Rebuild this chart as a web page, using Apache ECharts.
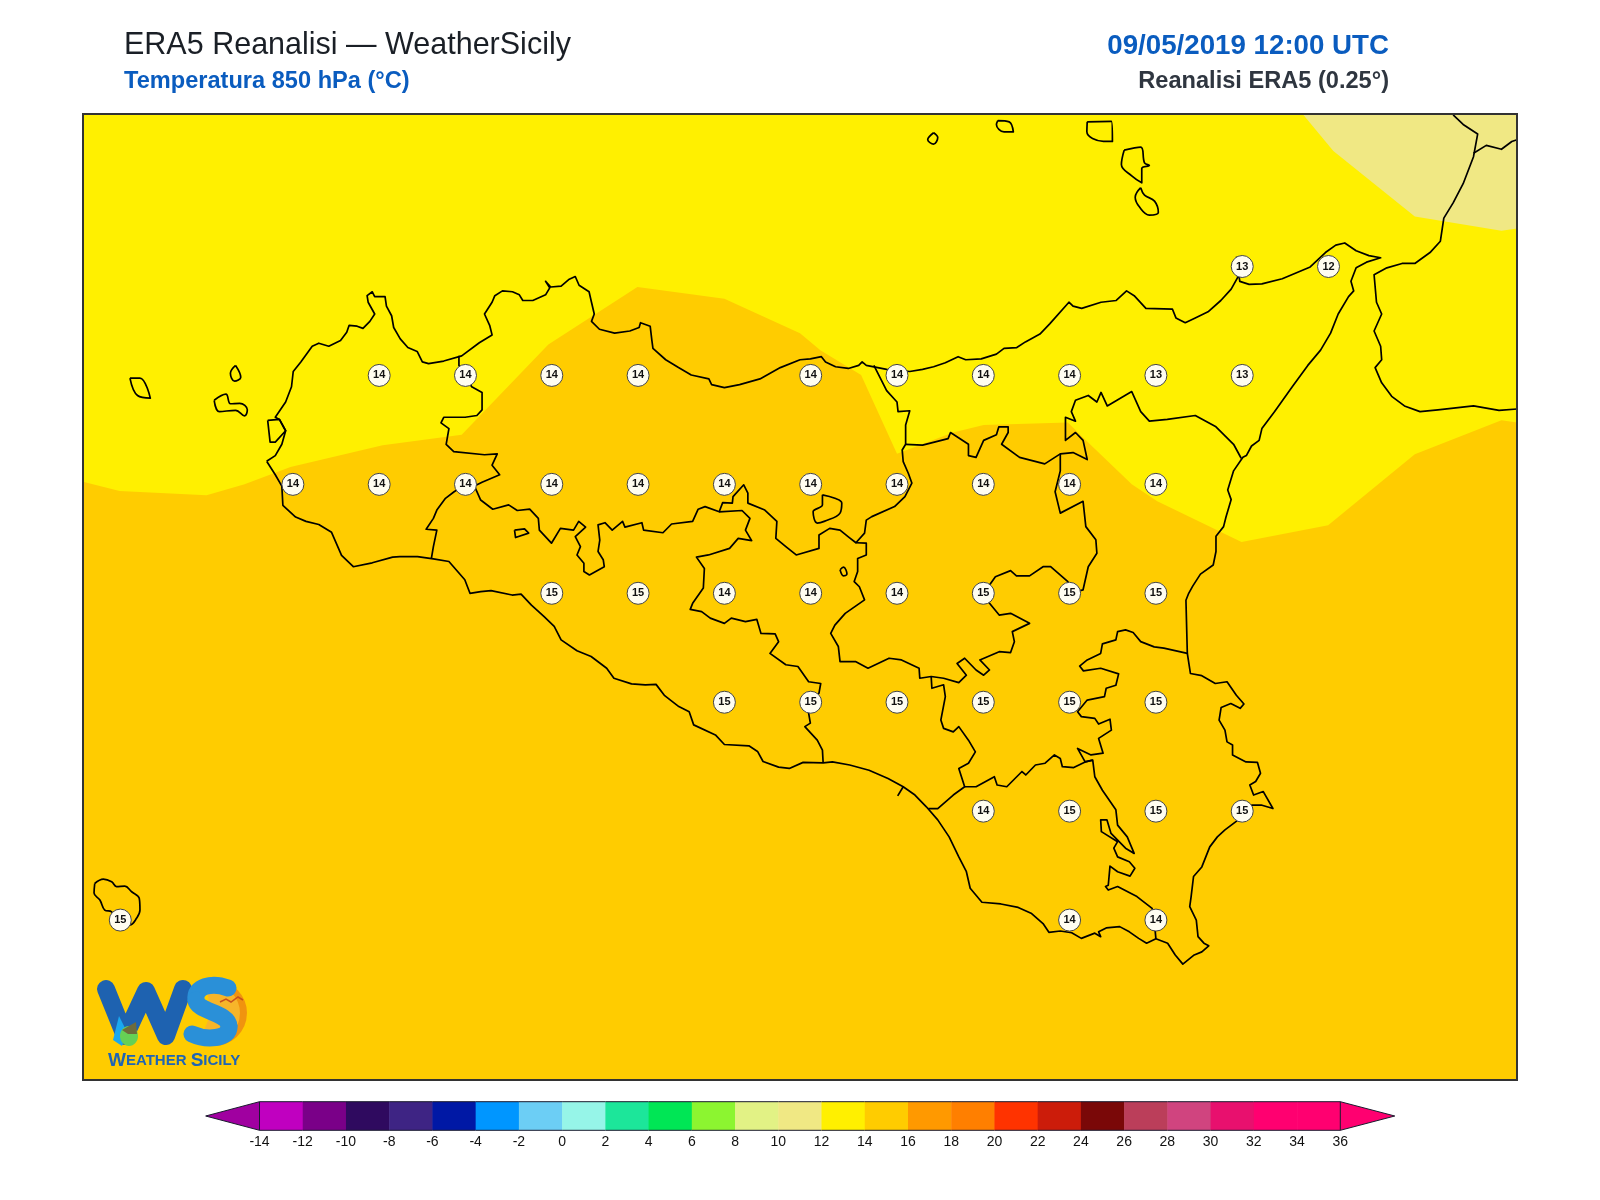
<!DOCTYPE html>
<html>
<head>
<meta charset="utf-8">
<title>ERA5 Reanalisi - WeatherSicily</title>
<style>
html,body{margin:0;padding:0;background:#fff}
#chart{width:1600px;height:1200px}
</style>
<script src="https://cdn.jsdelivr.net/npm/echarts@6/dist/echarts.min.js"></script>
</head>
<body>
<div id="chart"></div>
<script>
// map extent in degrees
const lonMin = 11.892, lonMax = 16.046, latMin = 36.383, latMax = 38.6;

// isotherms, as lat read at each lon; fill goes from the line up to the top of the map
const iso14 = [[11.892,37.756],[11.998,37.735],[12.25,37.725],[12.36,37.75],[12.493,37.79],[12.76,37.84],[12.989,37.864],[13.24,38.071],[13.498,38.203],[13.75,38.176],[13.969,38.097],[14.028,38.058],[14.146,38.001],[14.25,37.82],[14.412,37.869],[14.501,37.886],[14.745,37.892],[14.797,37.851],[14.93,37.75],[15.004,37.711],[15.248,37.618],[15.499,37.656],[15.75,37.819],[16.001,37.897],[16.046,37.892]];
const iso12 = [[15.425,38.6],[15.514,38.515],[15.75,38.365],[16.001,38.332],[16.046,38.337]];

// grid point labels (0.25 deg ERA5 grid)
const pointLon = [15.25,15.5, 12.75,13,13.25,13.5,14,14.25,14.5,14.75,15,15.25, 12.5,12.75,13,13.25,13.5,13.75,14,14.25,14.5,14.75,15, 13.25,13.5,13.75,14,14.25,14.5,14.75,15, 13.75,14,14.25,14.5,14.75,15, 14.5,14.75,15,15.25, 14.75,15,12];
const pointLat = [38.25,38.25, 38,38,38,38,38,38,38,38,38,38, 37.75,37.75,37.75,37.75,37.75,37.75,37.75,37.75,37.75,37.75,37.75, 37.5,37.5,37.5,37.5,37.5,37.5,37.5,37.5, 37.25,37.25,37.25,37.25,37.25,37.25, 37,37,37,37, 36.75,36.75,36.75];
const pointTemp = [13,12, 14,14,14,14,14,14,14,14,13,13, 14,14,14,14,14,14,14,14,14,14,14, 15,15,14,14,14,15,15,15, 15,15,15,15,15,15, 14,15,15,15, 14,14,15];

// colorbar
const barLevels = [-14,-12,-10,-8,-6,-4,-2,0,2,4,6,8,10,12,14,16,18,20,22,24,26,28,30,32,34,36];
const barColors = ['#C000C0','#7A0088','#2F0A5F','#3E2484','#0018A5','#0096FF','#6CCEF5','#96F5E8','#1CE69A','#00E655','#8CF530','#E2F285','#F0E884','#FFF000','#FFCC00','#FF9900','#FF7F00','#FF3300','#CC1C0A','#7A0808','#BB3E5A','#D0447F','#E8106E','#FF0070','#FF0070'];
const arrowLow = -16.49, arrowHigh = 38.52;
const arrowLowColor = '#A000A0', arrowHighColor = '#FF0070';

// sicily coastline
const coastSicily = [[12.424,37.803],[12.449,37.816],[12.468,37.842],[12.479,37.873],[12.461,37.899],[12.449,37.904],[12.479,37.939],[12.496,37.974],[12.501,38.009],[12.523,38.031],[12.556,38.067],[12.575,38.074],[12.604,38.067],[12.638,38.08],[12.656,38.099],[12.663,38.115],[12.686,38.113],[12.703,38.108],[12.723,38.124],[12.737,38.141],[12.718,38.168],[12.715,38.183],[12.73,38.192],[12.737,38.181],[12.767,38.181],[12.771,38.159],[12.786,38.137],[12.792,38.11],[12.811,38.084],[12.833,38.064],[12.86,38.055],[12.875,38.031],[12.893,38.027],[12.937,38.033],[12.989,38.045],[13.04,38.075],[13.077,38.093],[13.07,38.115],[13.055,38.141],[13.077,38.168],[13.085,38.183],[13.107,38.194],[13.136,38.192],[13.156,38.185],[13.166,38.172],[13.195,38.172],[13.232,38.185],[13.244,38.201],[13.232,38.216],[13.247,38.203],[13.277,38.205],[13.299,38.22],[13.318,38.227],[13.329,38.207],[13.358,38.192],[13.365,38.168],[13.373,38.141],[13.365,38.124],[13.388,38.106],[13.432,38.097],[13.476,38.102],[13.503,38.11],[13.507,38.121],[13.535,38.113],[13.54,38.08],[13.543,38.062],[13.58,38.036],[13.617,38.018],[13.654,38.001],[13.705,37.992],[13.713,37.979],[13.75,37.972],[13.794,37.979],[13.853,37.992],[13.912,38.018],[13.969,38.036],
[13.999,38.038],[14.031,38.043],[14.043,38.031],[14.072,38.02],[14.109,38.016],[14.139,38.023],[14.149,38.031],[14.161,38.023],[14.22,38.014],[14.287,38.009],[14.324,38.014],[14.356,38.02],[14.39,38.029],[14.427,38.043],[14.449,38.036],[14.494,38.038],[14.538,38.049],[14.56,38.062],[14.597,38.064],[14.622,38.077],[14.664,38.095],[14.693,38.119],[14.748,38.168],[14.76,38.159],[14.785,38.154],[14.841,38.168],[14.885,38.172],[14.915,38.194],[14.937,38.183],[14.971,38.154],[15.048,38.152],[15.058,38.132],[15.085,38.121],[15.114,38.132],[15.151,38.146],[15.188,38.172],[15.218,38.198],[15.237,38.225],[15.233,38.271],[15.243,38.216],[15.27,38.209],[15.307,38.21],[15.366,38.222],[15.447,38.249],[15.491,38.282],[15.521,38.299],[15.547,38.304],[15.58,38.286],[15.617,38.275],[15.651,38.27],[15.61,38.26],[15.58,38.247],[15.565,38.216],[15.573,38.194],[15.558,38.181],[15.528,38.141],[15.506,38.097],[15.477,38.058],[15.44,38.023],[15.395,37.974],[15.344,37.917],[15.307,37.878],[15.299,37.851],[15.277,37.838],[15.262,37.816],[15.252,37.812],[15.225,37.781],[15.208,37.737],[15.218,37.715],[15.203,37.675],[15.196,37.653],[15.174,37.631],[15.174,37.596],[15.166,37.565],[15.129,37.544],[15.107,37.517],[15.095,37.5],
[15.087,37.484],[15.091,37.362],[15.1,37.316],[15.133,37.311],[15.172,37.293],[15.206,37.297],[15.233,37.266],[15.255,37.246],[15.244,37.236],[15.217,37.247],[15.189,37.238],[15.183,37.209],[15.2,37.186],[15.206,37.159],[15.222,37.152],[15.222,37.129],[15.261,37.113],[15.294,37.112],[15.303,37.087],[15.289,37.068],[15.272,37.06],[15.283,37.037],[15.311,37.045],[15.339,37.006],[15.305,37.014],[15.278,37.014],[15.25,36.987],[15.2,36.957],[15.178,36.941],[15.156,36.918],[15.133,36.872],[15.109,36.85],[15.102,36.804],[15.098,36.781],[15.117,36.75],[15.122,36.712],[15.139,36.697],[15.153,36.691],[15.133,36.677],[15.111,36.67],[15.078,36.649],[15.056,36.67],[15.034,36.697],[15,36.707],[14.973,36.697],[14.95,36.708],[14.923,36.723],[14.895,36.735],[14.856,36.732],[14.834,36.723],[14.84,36.712],[14.823,36.72],[14.784,36.708],[14.756,36.721],[14.723,36.725],[14.69,36.722],[14.673,36.742],[14.64,36.765],[14.601,36.779],[14.551,36.787],[14.496,36.791],[14.462,36.823],[14.451,36.861],[14.429,36.895],[14.401,36.941],[14.368,36.98],[14.335,37.01],[14.302,37.037],[14.268,37.056],[14.224,37.075],[14.169,37.094],[14.113,37.106],[14.063,37.113],[14.036,37.111],
[13.978,37.112],[13.938,37.098],[13.907,37.101],[13.862,37.114],[13.846,37.137],[13.821,37.15],[13.75,37.153],[13.724,37.175],[13.661,37.198],[13.648,37.228],[13.618,37.24],[13.577,37.265],[13.552,37.291],[13.521,37.29],[13.481,37.292],[13.43,37.305],[13.409,37.328],[13.364,37.355],[13.323,37.368],[13.277,37.393],[13.257,37.424],[13.227,37.447],[13.191,37.473],[13.161,37.498],[13.135,37.496],[13.074,37.506],[13.044,37.504],[13.013,37.5],[12.998,37.531],[12.952,37.573],[12.907,37.579],[12.861,37.584],[12.81,37.584],[12.789,37.583],[12.73,37.57],[12.675,37.561],[12.641,37.587],[12.612,37.64],[12.575,37.658],[12.538,37.665],[12.508,37.675],[12.471,37.702],[12.468,37.746],[12.449,37.772],[12.424,37.803]];
const lagoonStagnone = [[12.427,37.897],[12.434,37.847],[12.449,37.847],[12.479,37.873],[12.461,37.899],[12.427,37.897]];

// small islands
const isleMarettimo = [[12.028,37.994],[12.057,37.994],[12.087,37.948],[12.05,37.954],[12.028,37.994]];
const isleLevanzo = [[12.334,38.023],[12.349,37.996],[12.331,37.987],[12.319,38.005],[12.334,38.023]];
const isleFavignana = [[12.272,37.943],[12.306,37.957],[12.319,37.935],[12.346,37.936],[12.368,37.921],[12.36,37.907],[12.334,37.92],[12.287,37.917],[12.272,37.943]];
const isleAlicudi = [[14.356,38.557],[14.368,38.546],[14.356,38.531],[14.339,38.541],[14.356,38.557]];
const isleFilicudi = [[14.542,38.585],[14.575,38.582],[14.587,38.559],[14.56,38.559],[14.538,38.576],[14.542,38.585]];
const isleSalina = [[14.801,38.582],[14.871,38.583],[14.874,38.537],[14.848,38.537],[14.8,38.559],[14.801,38.582]];
const isleLipari = [[14.908,38.517],[14.956,38.524],[14.967,38.488],[14.981,38.482],[14.959,38.475],[14.959,38.442],[14.93,38.458],[14.9,38.484],[14.908,38.517]];
const isleVulcano = [[14.956,38.431],[14.967,38.414],[14.996,38.4],[15.007,38.374],[14.981,38.368],[14.952,38.387],[14.94,38.409],[14.956,38.431]];
const islePantelleria = [[11.926,36.834],[11.951,36.844],[11.975,36.838],[11.989,36.827],[12.013,36.828],[12.033,36.815],[12.055,36.8],[12.057,36.773],[12.047,36.754],[12.028,36.739],[11.999,36.739],[11.975,36.769],[11.955,36.773],[11.941,36.796],[11.924,36.812],[11.926,36.834]];

// calabria
const coastCalabria = [[15.861,38.598],[15.89,38.576],[15.932,38.554],[15.92,38.502],[15.89,38.44],[15.861,38.396],[15.834,38.361],[15.824,38.308],[15.794,38.282],[15.75,38.257],[15.713,38.257],[15.669,38.247],[15.632,38.231],[15.639,38.168],[15.654,38.141],[15.632,38.102],[15.651,38.067],[15.654,38.036],[15.635,38.018],[15.654,37.983],[15.683,37.952],[15.72,37.93],[15.765,37.917],[15.817,37.921],[15.92,37.93],[15.994,37.92],[16.046,37.923]];
const borderCalabria = [[15.92,38.51],[15.957,38.528],[16.001,38.519],[16.031,38.537],[16.046,38.541]];

// province borders
const borderTpPa = [[12.981,38.045],[12.981,38.023],[13.018,37.974],[13.048,37.961],[13.048,37.921],[13.033,37.908],[12.999,37.904],[12.937,37.904],[12.929,37.891],[12.952,37.878],[12.944,37.842],[12.966,37.825],[13.055,37.818],[13.092,37.82],[13.077,37.794],[13.099,37.772],[13.048,37.755],[13.026,37.746],[13,37.75]];
const borderTpAg = [[13,37.75],[12.967,37.733],[12.942,37.718],[12.917,37.691],[12.907,37.672],[12.886,37.647],[12.917,37.645],[12.907,37.607],[12.901,37.579]];
const borderPaAg = [[13.026,37.746],[13.044,37.714],[13.079,37.693],[13.125,37.703],[13.15,37.69],[13.186,37.693],[13.211,37.672],[13.214,37.645],[13.249,37.615],[13.275,37.649],[13.313,37.645],[13.328,37.665],[13.348,37.652],[13.318,37.63],[13.333,37.607],[13.323,37.588],[13.343,37.569],[13.343,37.55],[13.359,37.542],[13.402,37.561],[13.399,37.577],[13.384,37.596],[13.389,37.622],[13.384,37.657],[13.404,37.662],[13.425,37.645],[13.455,37.665],[13.462,37.652],[13.511,37.662],[13.516,37.645],[13.572,37.639],[13.597,37.659],[13.658,37.665],[13.674,37.693],[13.694,37.699],[13.735,37.687],[13.745,37.708],[13.773,37.707],[13.775,37.722],[13.806,37.749],[13.818,37.73],[13.818,37.707],[13.867,37.691],[13.902,37.665],[13.899,37.626],[13.928,37.607],[13.958,37.588],[14.024,37.603],[14.024,37.634],[14.055,37.649],[14.085,37.645],[14.11,37.629],[14.131,37.616],[14.156,37.638],[14.161,37.668],[14.177,37.676],[14.243,37.699],[14.273,37.722],[14.293,37.753],[14.283,37.775],[14.268,37.802],[14.265,37.829],[14.275,37.842],[14.275,37.886],[14.287,37.919],[14.253,37.917],[14.25,37.939],[14.22,37.965],[14.183,38.023]];
const borderMeEn = [[14.275,37.842],[14.324,37.84],[14.398,37.855],[14.405,37.869],[14.457,37.842],[14.457,37.816],[14.479,37.812],[14.501,37.851],[14.538,37.864],[14.545,37.882],[14.572,37.882],[14.572,37.869],[14.553,37.842],[14.605,37.812],[14.678,37.797],[14.723,37.82],[14.76,37.823],[14.801,37.807],[14.789,37.851],[14.767,37.869],[14.738,37.851],[14.738,37.904],[14.767,37.895],[14.755,37.917],[14.767,37.943],[14.804,37.954],[14.829,37.939],[14.841,37.961],[14.859,37.93],[14.93,37.963],[14.956,37.917],[14.981,37.895],[15.033,37.899],[15.114,37.908],[15.174,37.882],[15.225,37.842],[15.247,37.81]];
const borderEnCt = [[14.723,37.82],[14.723,37.781],[14.708,37.733],[14.723,37.684],[14.789,37.711],[14.797,37.653],[14.826,37.623],[14.829,37.592],[14.804,37.561],[14.789,37.508],[14.784,37.504],[14.751,37.5]];
const borderEnCl = [[14.131,37.616],[14.161,37.615],[14.161,37.588],[14.136,37.58],[14.136,37.55],[14.126,37.527],[14.141,37.515],[14.156,37.485],[14.1,37.454],[14.07,37.427],[14.058,37.408],[14.08,37.378],[14.085,37.343],[14.131,37.343],[14.166,37.328],[14.227,37.351],[14.263,37.347],[14.314,37.328],[14.316,37.305],[14.349,37.309],[14.385,37.305],[14.429,37.295],[14.451,37.312],[14.424,37.339],[14.446,37.351],[14.479,37.324],[14.501,37.312],[14.518,37.324],[14.49,37.347],[14.546,37.366],[14.579,37.364],[14.59,37.389],[14.584,37.412],[14.634,37.431],[14.579,37.454],[14.546,37.45],[14.518,37.477],[14.501,37.5],[14.535,37.538],[14.579,37.552],[14.596,37.54],[14.634,37.54],[14.673,37.561],[14.695,37.561],[14.745,37.527],[14.751,37.5]];
const borderAgCl = [[13.735,37.687],[13.801,37.69],[13.824,37.672],[13.811,37.645],[13.829,37.621],[13.79,37.626],[13.765,37.603],[13.704,37.588],[13.669,37.583],[13.692,37.557],[13.689,37.512],[13.658,37.477],[13.651,37.463],[13.684,37.458],[13.709,37.443],[13.75,37.431],[13.77,37.443],[13.811,37.435],[13.844,37.44],[13.856,37.408],[13.897,37.407],[13.907,37.389],[13.882,37.362],[13.928,37.336],[13.963,37.332],[13.994,37.297],[14.029,37.293],[14.024,37.271],[13.999,37.25],[13.994,37.225],[13.999,37.202],[13.983,37.194],[14.019,37.163],[14.034,37.14],[14.036,37.111]];
const borderClRg = [[14.349,37.309],[14.351,37.282],[14.385,37.29],[14.39,37.263],[14.377,37.209],[14.385,37.19],[14.413,37.182],[14.429,37.194],[14.457,37.163],[14.477,37.136],[14.457,37.11],[14.429,37.098],[14.446,37.056],[14.413,37.037],[14.368,37.006],[14.341,37.006]];
const borderRgCt = [[14.446,37.056],[14.479,37.056],[14.532,37.079],[14.54,37.06],[14.568,37.056],[14.612,37.091],[14.623,37.083],[14.651,37.106],[14.679,37.11],[14.706,37.129],[14.723,37.121],[14.729,37.102],[14.762,37.1],[14.795,37.113],[14.817,37.117]];
const borderCtSr = [[15.091,37.362],[15.023,37.374],[14.995,37.377],[14.956,37.389],[14.934,37.41],[14.912,37.416],[14.889,37.412],[14.884,37.393],[14.845,37.384],[14.84,37.362],[14.801,37.347],[14.779,37.333],[14.79,37.322],[14.84,37.328],[14.892,37.315],[14.884,37.289],[14.856,37.282],[14.851,37.263],[14.801,37.255],[14.773,37.228],[14.784,37.217],[14.823,37.213],[14.834,37.2],[14.867,37.211],[14.871,37.186],[14.834,37.167],[14.847,37.133],[14.812,37.129],[14.773,37.144],[14.795,37.113],[14.817,37.117],[14.823,37.079],[14.845,37.048],[14.884,37.003],[14.889,36.968],[14.917,36.941],[14.937,36.903],[14.912,36.915],[14.87,36.949],[14.858,36.98],[14.84,36.98],[14.842,36.953],[14.889,36.93],[14.878,36.915],[14.889,36.895],[14.923,36.884],[14.939,36.869],[14.925,36.851],[14.889,36.861],[14.867,36.874],[14.862,36.83],[14.854,36.827],[14.862,36.819],[14.889,36.827],[14.945,36.804],[14.989,36.777],[14.995,36.75],[15,36.707]];
const enclaveAg = [[13.142,37.645],[13.171,37.648],[13.183,37.638],[13.145,37.628],[13.142,37.645]];
const enclavePa = [[14.034,37.726],[14.07,37.718],[14.09,37.707],[14.085,37.684],[14.039,37.665],[14.019,37.661],[14.007,37.687],[14.034,37.703],[14.034,37.726]];
const lakeEn = [[14.085,37.554],[14.095,37.56],[14.105,37.544],[14.095,37.54],[14.085,37.554]];
const tickGela = [[14.268,37.056],[14.252,37.035]];

const outlines = [coastSicily, lagoonStagnone, coastCalabria, borderCalabria, borderTpPa, borderTpAg, borderPaAg, borderMeEn, borderEnCt, borderEnCl, borderAgCl, borderClRg, borderRgCt, borderCtSr, enclaveAg, tickGela];
// these are rounded in the picture
const roundOutlines = [isleMarettimo, isleLevanzo, isleFavignana, isleAlicudi, isleFilicudi, isleSalina, isleLipari, isleVulcano, islePantelleria, enclavePa, lakeEn];

const FONT = '"Liberation Sans", Arial, sans-serif';
const PLOT = {left: 83, top: 114, width: 1434, height: 966};
const chart = echarts.init(document.getElementById('chart'));

function isoSeries(data, color) {
	return {
		type: 'line', data: data, xAxisIndex: 0, yAxisIndex: 0,
		showSymbol: false, silent: true, z: 1,
		lineStyle: {width: 0},
		areaStyle: {color: color, opacity: 1, origin: 'end'}
	};
}

function outlineSeries(data, smooth) {
	return {
		type: 'line', data: data, xAxisIndex: 0, yAxisIndex: 0,
		showSymbol: false, silent: true, z: 3, smooth: smooth,
		lineStyle: {color: '#000', width: 1.7, join: 'round'}
	};
}

// one stroke of the S in the logo
function logoCurve(x1, y1, cpx1, cpy1, cpx2, cpy2, x2, y2) {
	return {
		type: 'bezierCurve', z: 22,
		shape: {x1: x1, y1: y1, cpx1: cpx1, cpy1: cpy1, cpx2: cpx2, cpy2: cpy2, x2: x2, y2: y2},
		style: {stroke: '#2A90D8', fill: 'none', lineWidth: 17, lineCap: 'round'}
	};
}

// one colorbar cell, or the triangle at either end
function renderBarCell(params, api) {
	const lo = api.value(0), hi = api.value(1);
	const a = api.coord([lo, 1]), b = api.coord([hi, 0]);
	const midY = (a[1] + b[1]) / 2;
	const fill = api.value(2);
	const outline = {stroke: '#1a1a2e', lineWidth: 1};
	if (lo < barLevels[0]) {
		return {type: 'polygon', shape: {points: [[a[0], midY], [b[0], a[1]], [b[0], b[1]]]}, style: {fill: fill, stroke: outline.stroke, lineWidth: 1}};
	}
	if (hi > barLevels[barLevels.length - 1]) {
		return {type: 'polygon', shape: {points: [[b[0], midY], [a[0], a[1]], [a[0], b[1]]]}, style: {fill: fill, stroke: outline.stroke, lineWidth: 1}};
	}
	return {type: 'group', children: [
		{type: 'rect', shape: {x: a[0], y: a[1], width: b[0] - a[0] + 0.5, height: b[1] - a[1]}, style: {fill: fill}},
		{type: 'line', shape: {x1: a[0], y1: a[1], x2: b[0], y2: a[1]}, style: outline},
		{type: 'line', shape: {x1: a[0], y1: b[1], x2: b[0], y2: b[1]}, style: outline}
	]};
}

const barData = barColors.map((c, i) => [barLevels[i], barLevels[i + 1], c]);
barData.push([arrowLow, barLevels[0], arrowLowColor]);
barData.push([barLevels[barLevels.length - 1], arrowHigh, arrowHighColor]);

chart.setOption({
	animation: false,
	backgroundColor: '#fff',
	title: [
		{text: 'ERA5 Reanalisi — WeatherSicily', left: 124, top: 30, padding: 0, textStyle: {fontFamily: FONT, fontSize: 30.5, fontWeight: 'normal', color: '#1a1f26'}},
		{text: 'Temperatura 850 hPa (°C)', left: 124, top: 69, padding: 0, textStyle: {fontFamily: FONT, fontSize: 23.6, fontWeight: 'bold', color: '#0A5CBF'}},
		{text: '09/05/2019 12:00 UTC', right: 211, top: 32, padding: 0, textStyle: {fontFamily: FONT, fontSize: 27.7, fontWeight: 'bold', color: '#0A5CBF'}},
		{text: 'Reanalisi ERA5 (0.25°)', right: 211, top: 69, padding: 0, textStyle: {fontFamily: FONT, fontSize: 23.6, fontWeight: 'bold', color: '#2F3640'}}
	],
	grid: [
		{left: PLOT.left, top: PLOT.top, width: PLOT.width, height: PLOT.height, show: true, backgroundColor: '#FFCC00', borderWidth: 0},
		{left: 259.5, top: 1101.7, width: 1080.8, height: 28.6}
	],
	xAxis: [
		{type: 'value', gridIndex: 0, min: lonMin, max: lonMax, show: false},
		{type: 'value', gridIndex: 1, min: barLevels[0], max: barLevels[barLevels.length - 1], interval: 2,
			splitLine: {show: false}, axisLine: {show: false}, axisTick: {show: false},
			axisLabel: {margin: 5, fontFamily: FONT, fontSize: 14, color: '#111', showMinLabel: true, showMaxLabel: true}}
	],
	yAxis: [
		{type: 'value', gridIndex: 0, min: latMin, max: latMax, show: false},
		{type: 'value', gridIndex: 1, min: 0, max: 1, show: false}
	],
	series: [
		isoSeries(iso14, '#FFF000'),
		isoSeries(iso12, '#F0E884')
	].concat(outlines.map(line => outlineSeries(line, false)))
	.concat(roundOutlines.map(line => outlineSeries(line, 0.4)))
	.concat([
		{
			type: 'scatter', xAxisIndex: 0, yAxisIndex: 0, z: 5, silent: true,
			data: pointLon.map((lon, i) => [lon, pointLat[i], pointTemp[i]]),
			symbol: 'circle', symbolSize: 22,
			itemStyle: {color: '#FFFDF0', borderColor: '#444', borderWidth: 1, opacity: 1},
			label: {show: true, position: 'inside', formatter: p => p.value[2], fontFamily: FONT, fontSize: 11, fontWeight: 'bold', color: '#111'}
		},
		{
			type: 'custom', xAxisIndex: 1, yAxisIndex: 1, silent: true, z: 3,
			renderItem: renderBarCell, data: barData, clip: false
		}
	]),
	graphic: [
		{type: 'rect', shape: {x: PLOT.left, y: PLOT.top, width: PLOT.width, height: PLOT.height}, style: {fill: 'none', stroke: '#333', lineWidth: 2}, z: 50},
		// logo, the W and S are drawn strokes in the original artwork too
		{type: 'sector', shape: {cx: 214, cy: 1013, r: 33, startAngle: -1.75, endAngle: 1.95}, style: {fill: '#F0930F'}, z: 20},
		{type: 'sector', shape: {cx: 211, cy: 1013, r: 29, startAngle: -1.75, endAngle: 1.95}, style: {fill: '#F7B52A'}, z: 20},
		{type: 'polyline', shape: {points: [[106, 989], [125, 1036], [146, 991], [166, 1036], [183, 989]]},
			style: {stroke: '#1E62B0', fill: 'none', lineWidth: 18, lineCap: 'round', lineJoin: 'round'}, z: 21},
		logoCurve(228, 988, 212, 982, 194, 986, 196, 1000),
		logoCurve(196, 1000, 197, 1012, 228, 1012, 229, 1026),
		logoCurve(229, 1026, 230, 1040, 205, 1040, 192, 1034),
		{type: 'polygon', shape: {points: [[113, 1040], [119, 1016], [127, 1032], [122, 1046]]}, style: {fill: '#19A8F0'}, z: 23},
		{type: 'ellipse', shape: {cx: 129, cy: 1036, rx: 9, ry: 10}, style: {fill: '#66D055'}, z: 23},
		{type: 'polygon', shape: {points: [[122, 1030], [136, 1022], [137, 1034], [128, 1034]]}, style: {fill: '#6E6B3C'}, z: 24},
		{type: 'polyline', shape: {points: [[220, 1002], [226, 999], [231, 1002], [238, 997], [243, 1000]]}, style: {stroke: '#C8501E', fill: 'none', lineWidth: 1.5}, z: 23},
		{type: 'text', x: 108, y: 1051, z: 21, style: {
			rich: {a: {font: 'bold 19px ' + FONT, fill: '#1F65B5'}, b: {font: 'bold 15px ' + FONT, fill: '#1F65B5'}},
			text: '{a|W}{b|EATHER }{a|S}{b|ICILY}'
		}}
	]
});
</script>
</body>
</html>
